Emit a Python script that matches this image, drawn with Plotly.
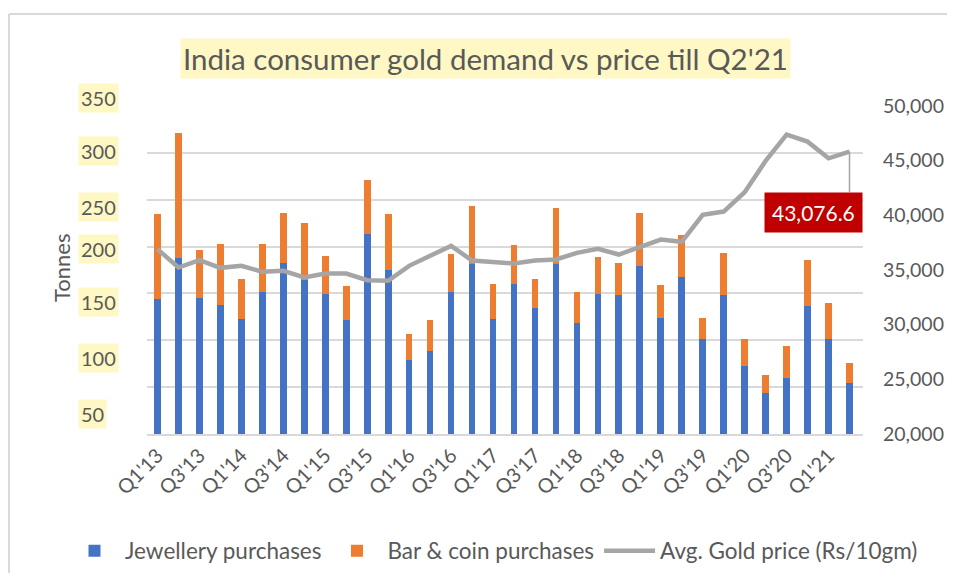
import plotly.graph_objects as go

# ---------------- data ----------------
quarters = ["Q1'13", "Q2'13", "Q3'13", "Q4'13", "Q1'14", "Q2'14", "Q3'14", "Q4'14",
            "Q1'15", "Q2'15", "Q3'15", "Q4'15", "Q1'16", "Q2'16", "Q3'16", "Q4'16",
            "Q1'17", "Q2'17", "Q3'17", "Q4'17", "Q1'18", "Q2'18", "Q3'18", "Q4'18",
            "Q1'19", "Q2'19", "Q3'19", "Q4'19", "Q1'20", "Q2'20", "Q3'20", "Q4'20",
            "Q1'21", "Q2'21"]

jewellery = [143.9, 188.0, 145.3, 137.5, 122.9, 151.0, 182.6, 164.2,
             149.9, 121.2, 213.5, 175.2, 79.2, 88.8, 151.7, 181.6,
             122.9, 160.2, 134.0, 181.9, 118.7, 149.2, 148.2, 179.4,
             124.0, 167.7, 100.9, 148.2, 72.8, 43.3, 60.0, 136.4,
             101.6, 54.0]

total_demand = [235.2, 321.2, 196.8, 203.2, 165.9, 203.2, 236.3, 225.6,
                190.1, 158.1, 270.8, 235.2, 106.2, 121.5, 191.9, 243.0,
                159.9, 201.8, 165.2, 241.6, 151.0, 188.7, 182.6, 235.6,
                158.5, 212.5, 123.3, 193.6, 101.3, 62.9, 93.8, 185.5,
                139.3, 75.3]

bar_coin = [round(t - j, 1) for t, j in zip(total_demand, jewellery)]

gold_price = [36904, 35228, 35899, 35198, 35381, 34833, 34924, 34315,
              34680, 34680, 34071, 34010, 35381, 36294, 37208, 35868,
              35746, 35594, 35868, 35959, 36569, 36934, 36416, 37117,
              37787, 37574, 40041, 40345, 42112, 44975, 47381, 46741,
              45218, 45828]

left_tick_labels = ["350", "300", "250", "200", "150", "100", "50"]
x_tick_labels = quarters[::2]
callout_text = "43,076.6"

# ---------------- layout helpers ----------------
SCREEN_W, SCREEN_H = 955, 581
OFF = 8                       # page body margin
W, H = SCREEN_W - 2 * OFF, SCREEN_H - 2 * OFF
# plot area in screen pixels
SL, SR, ST, SB = 147, 863, 106, 434
L, R, T, B = SL - OFF, SR - OFF, ST - OFF, SB - OFF


def px_x(p):   # screen pixel -> paper x
    return (p - OFF - L) / (R - L)


def px_y(p):   # screen pixel -> paper y
    return (B - (p - OFF)) / (B - T)


GREY_TXT = "#595959"
YELLOW = "#FFF8C4"
GRID = "#D9D9D9"
FONT = "Lato"

fig = go.Figure()
fig.add_trace(go.Bar(x=quarters, y=jewellery, name="Jewellery purchases",
                     marker=dict(color="#4472C4", line=dict(width=0))))
fig.add_trace(go.Bar(x=quarters, y=bar_coin, name="Bar & coin purchases",
                     marker=dict(color="#ED7D31", line=dict(width=0))))
fig.add_trace(go.Scatter(x=quarters, y=gold_price, name="Avg. Gold price (Rs/10gm)",
                         mode="lines", yaxis="y2",
                         line=dict(color="#A5A5A5", width=4.5)))

annotations = []
# title
annotations.append(dict(text="India consumer gold demand vs price till Q2'21",
                        xref="paper", yref="paper", x=px_x(485), y=px_y(58),
                        xanchor="center", yanchor="middle", showarrow=False,
                        bgcolor=YELLOW, borderpad=2,
                        font=dict(family=FONT, size=29.5, color=GREY_TXT)))
# left overlaid tick labels (positioned as in the original)
left_label_y = [97.7, 151, 206.7, 249, 301.7, 357.7, 414]
for txt, yp in zip(left_tick_labels, left_label_y):
    annotations.append(dict(text=txt, xref="paper", yref="paper",
                            x=px_x(78), y=px_y(yp), xanchor="left", yanchor="middle",
                            showarrow=False, bgcolor=YELLOW, borderpad=2,
                            font=dict(family=FONT, size=20, color=GREY_TXT)))
# y axis title
annotations.append(dict(text="Tonnes", xref="paper", yref="paper",
                        x=px_x(61), y=px_y(268), textangle=-90,
                        xanchor="center", yanchor="middle", showarrow=False,
                        font=dict(family=FONT, size=22, color=GREY_TXT)))
# leader line from last point down to callout
annotations.append(dict(text="", x=quarters[-1], y=gold_price[-1], xref="x", yref="y2",
                        showarrow=True, ax=0, ay=42, arrowhead=0, arrowwidth=1.5,
                        arrowcolor="#A5A5A5", standoff=0, startstandoff=0))
# callout box
annotations.append(dict(text=callout_text, x=quarters[-1], y=gold_price[-1],
                        xref="x", yref="y2", showarrow=False,
                        xshift=-36, yshift=-61, xanchor="center", yanchor="middle",
                        bgcolor="#C00000", borderpad=7,
                        font=dict(family=FONT, size=21, color="white")))

shapes = [
    dict(type="line", xref="paper", yref="paper", x0=px_x(9), x1=px_x(SCREEN_W + 5),
         y0=px_y(14), y1=px_y(14), line=dict(color=GRID, width=2)),
    dict(type="line", xref="paper", yref="paper", x0=px_x(9), x1=px_x(9),
         y0=px_y(14), y1=px_y(SCREEN_H + 5), line=dict(color=GRID, width=2)),
]

fig.update_layout(
    width=W, height=H,
    margin=dict(l=L, r=W - R, t=T, b=H - B, pad=0, autoexpand=False),
    paper_bgcolor="white", plot_bgcolor="white",
    barmode="stack", bargap=0.68,
    font=dict(family=FONT, color=GREY_TXT),
    showlegend=True,
    legend=dict(orientation="h", x=px_x(64), y=px_y(551), xanchor="left", yanchor="middle",
                font=dict(family=FONT, size=22.5, color=GREY_TXT),
                traceorder="normal", itemwidth=51, bgcolor="rgba(0,0,0,0)"),
    xaxis=dict(type="category", tickmode="array", tickvals=x_tick_labels,
               ticktext=x_tick_labels, tickangle=-45,
               tickfont=dict(family=FONT, size=20, color=GREY_TXT),
               showline=True, linecolor=GRID, linewidth=2, ticks="",
               showgrid=False, zeroline=False, automargin=False),
    yaxis=dict(range=[0, 350], dtick=50, showticklabels=False, showgrid=True,
               gridcolor=GRID, gridwidth=1.5, zeroline=False, ticks="", automargin=False),
    yaxis2=dict(range=[20000, 50000], dtick=5000, overlaying="y", side="right",
                showgrid=False, zeroline=False, tickformat=",", ticks="",
                ticklabelstandoff=19, automargin=False,
                tickfont=dict(family=FONT, size=19.5, color=GREY_TXT)),
    annotations=annotations,
    shapes=shapes,
)

fig.write_html("out.html")
